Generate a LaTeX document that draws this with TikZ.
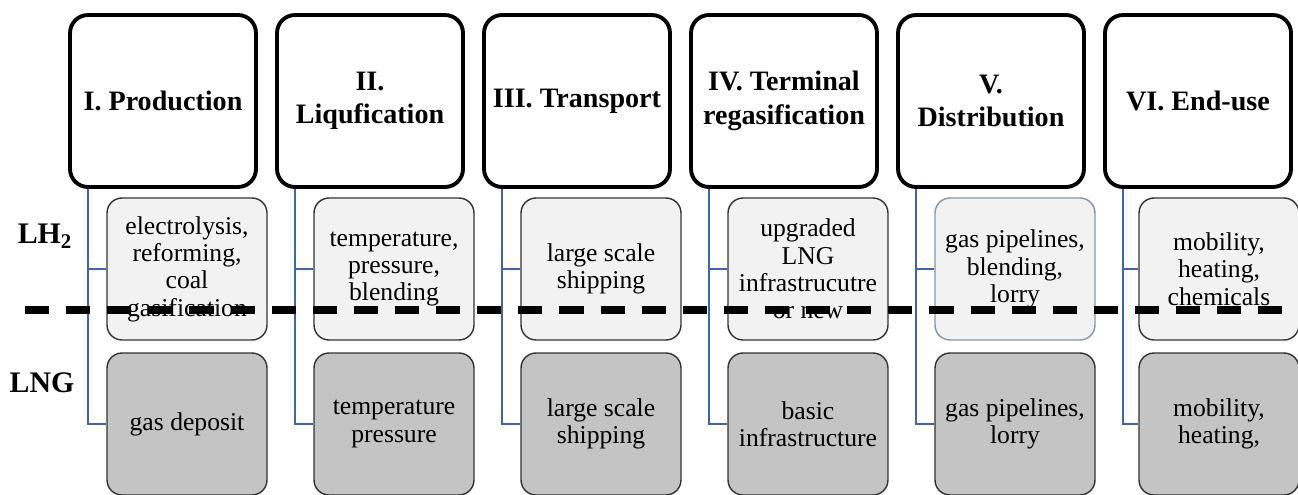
\documentclass[tikz,border=0pt]{standalone}
\usepackage{fontspec}
\setmainfont{Liberation Serif}
\usetikzlibrary{calc}
\definecolor{linkblue}{HTML}{3E64AE}
\definecolor{edgeblue}{HTML}{8497B0}
\tikzset{
	stage/.style={draw=black, line width=2.2pt, rounded corners=0.36cm, fill=white,
		minimum width=3.72cm, minimum height=3.44cm, align=center,
		font=\fontsize{16}{19}\selectfont\bfseries},
	lhbox/.style={draw=black!80, line width=0.8pt, rounded corners=0.3cm, fill=black!5,
		minimum width=3.2cm, minimum height=2.84cm, align=center,
		font=\fontsize{14.6}{15.6}\selectfont},
	lngbox/.style={lhbox, fill=black!23},
	link/.style={draw=linkblue, line width=1.5pt},
	rowlabel/.style={font=\fontsize{17}{19}\selectfont\bfseries},
}

\begin{document}
\begin{tikzpicture}[x=0.02cm, y=-0.02cm]
				\useasboundingbox (0,0) rectangle (1298,494);
				
				% stages
				\node[stage] (s1) at (163,101) {I. Production};
				\node[stage] (s2) at (370,101) {II.\\Liqufication};
				\node[stage] (s3) at (577,101) {III. Transport};
				\node[stage] (s4) at (784,101) {IV. Terminal\\regasification};
				\node[stage] (s5) at (991,101) {V.\\Distribution};
				\node[stage] (s6) at (1198,101) {VI. End-use};
				
				% liquid hydrogen
				\node[lhbox] (h1) at (187,269) {electrolysis,\\reforming,\\coal\\gasification};
				\node[lhbox] (h2) at (394,269) {temperature,\\pressure,\\blending};
				\node[lhbox] (h3) at (601,269) {large scale\\shipping};
				\node[lhbox] (h4) at (808,269) {upgraded\\LNG\\infrastrucutre\\or new};
				\node[lhbox, draw=edgeblue] (h5) at (1015,269) {gas pipelines,\\blending,\\lorry};
				\node[lhbox] (h6) at (1219,269) {mobility,\\heating,\\chemicals};
				
				% liquefied natural gas
				\node[lngbox] (n1) at (187,424) {gas deposit};
				\node[lngbox] (n2) at (394,424) {temperature\\pressure};
				\node[lngbox] (n3) at (601,424) {large scale\\shipping};
				\node[lngbox] (n4) at (808,424) {basic\\infrastructure};
				\node[lngbox] (n5) at (1015,424) {gas pipelines,\\lorry};
				\node[lngbox] (n6) at (1219,424) {mobility,\\heating,};
				
				\foreach \i in {1,...,6} {
					\draw[link] ($(s\i.south west)+(20,0)$) |- (h\i.west);
					\draw[link] ($(s\i.south west)+(20,0)$) |- (n\i.west);
				}
				
				\node[rowlabel] (lh) at (45,236) {LH\textsubscript{2}};
				\node[rowlabel] (lng) at (42,383) {LNG};
				
				\draw[line width=4pt, dash pattern=on 13.7pt off 9.7pt] (25,310) -- (1298,310);
			\end{tikzpicture}
\end{document}
